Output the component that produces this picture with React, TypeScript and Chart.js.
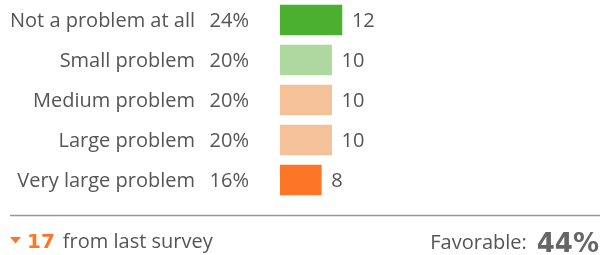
import React, { useEffect, useRef } from "react";
import { Chart, registerables } from "chart.js";

Chart.register(...registerables);

const categories = ["Not a problem at all", "Small problem", "Medium problem", "Large problem", "Very large problem"];
const counts = [12, 10, 10, 10, 8];
const percents = [24, 20, 20, 20, 16];
const barColors = ["#4bb02f", "#add89f", "#f5c199", "#f5c199", "#fd7628"];
const changeValue = 17;
const changeText = "from last survey";
const favorableLabel = "Favorable:";
const favorableValue = 44;

const FONT = "'Open Sans', Lato, sans-serif";
const BOLD = "'DejaVu Sans', sans-serif";
const TEXT = "#555555";

const labelsPlugin = {
  id: "labelsPlugin",
  afterDatasetsDraw(chart: any) {
    const ctx = chart.ctx;
    const meta = chart.getDatasetMeta(0);
    ctx.save();
    ctx.textBaseline = "alphabetic";
    ctx.fillStyle = TEXT;
    ctx.font = `20px ${FONT}`;
    meta.data.forEach((bar: any, i: number) => {
      const y = bar.y + 7;
      ctx.textAlign = "right";
      ctx.fillText(categories[i], 195, y);
      ctx.fillText(percents[i] + "%", 249, y);
      ctx.textAlign = "left";
      ctx.fillText(String(counts[i]), bar.x + 10, y);
    });
    // divider
    ctx.strokeStyle = "#999999";
    ctx.lineWidth = 1.5;
    ctx.beginPath();
    ctx.moveTo(10, 215.5);
    ctx.lineTo(600, 215.5);
    ctx.stroke();
    // footer triangle
    ctx.fillStyle = "#fd7628";
    ctx.beginPath();
    ctx.moveTo(10, 237);
    ctx.lineTo(21, 237);
    ctx.lineTo(15.5, 243.5);
    ctx.closePath();
    ctx.fill();
    ctx.textAlign = "left";
    ctx.font = `bold 20px ${BOLD}`;
    ctx.fillText(String(changeValue), 27, 248);
    const w17 = ctx.measureText(String(changeValue)).width;
    ctx.fillStyle = TEXT;
    ctx.font = `20px ${FONT}`;
    ctx.fillText(changeText, 27 + w17 + 8, 248);
    ctx.textAlign = "right";
    ctx.font = `bold 26px ${BOLD}`;
    ctx.fillStyle = "#666666";
    const favTxt = favorableValue + "%";
    ctx.fillText(favTxt, 599, 252);
    const wf = ctx.measureText(favTxt).width;
    ctx.fillStyle = TEXT;
    ctx.font = `20px ${FONT}`;
    ctx.fillText(favorableLabel, 599 - wf - 10, 249);
    ctx.restore();
  },
};

export default function App() {
  const ref = useRef<HTMLCanvasElement>(null);
  useEffect(() => {
    if (!ref.current) return;
    const chart = new Chart(ref.current, {
      type: "bar",
      data: {
        labels: categories,
        datasets: [
          {
            data: counts,
            backgroundColor: barColors,
            barThickness: 30,
            borderWidth: 0,
          },
        ],
      },
      options: {
        indexAxis: "y",
        responsive: false,
        animation: false,
        layout: { padding: { left: 280, right: 0, top: 0, bottom: 55 } },
        scales: {
          x: { display: false, min: 0, max: 62 },
          y: { display: false },
        },
        plugins: { legend: { display: false }, tooltip: { enabled: false } },
      },
      plugins: [labelsPlugin],
    });
    return () => chart.destroy();
  }, []);
  return (
    <div style={{ position: "absolute", left: 0, top: 0, width: 600, height: 255, background: "#fff" }}>
      <canvas ref={ref} width={600} height={255} style={{ width: 600, height: 255, display: "block" }} />
    </div>
  );
}
